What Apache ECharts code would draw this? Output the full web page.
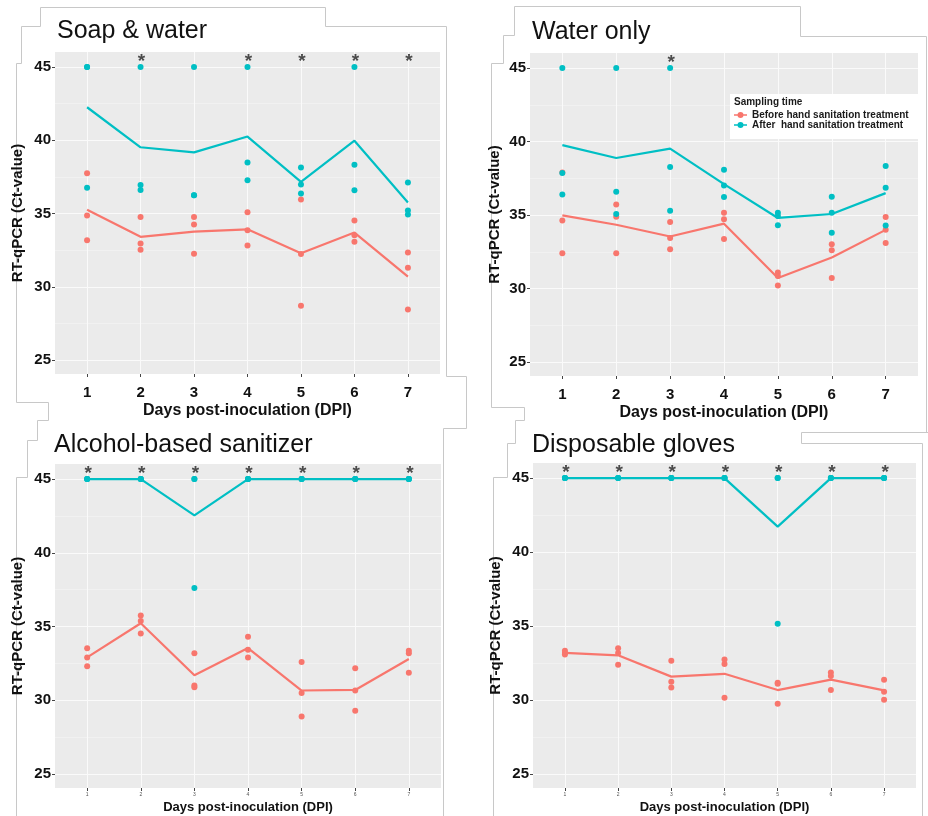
<!DOCTYPE html>
<html>
<head>
<meta charset="utf-8">
<script src="https://cdn.jsdelivr.net/npm/echarts@6/dist/echarts.min.js"></script>
<style>
html,body{margin:0;padding:0;background:#fff;}
#chart{width:928px;height:816px;}
</style>
</head>
<body>
<div id="chart"></div>
<script>
// ---------- data ----------
const days = [1, 2, 3, 4, 5, 6, 7];
const yTickValues = [25, 30, 35, 40, 45];
const yMinorValues = [27.5, 32.5, 37.5, 42.5];
const starLevel = 45.68;

const titles = ['Soap & water', 'Water only', 'Alcohol-based sanitizer', 'Disposable gloves'];
const nameBefore = 'Before hand sanitation treatment';
const nameAfter = 'After  hand sanitation treatment';

// Soap & water
const soapBefore = [[37.75, 34.86, 33.18], [34.77, 32.95, 32.52], [34.77, 34.25, 32.25], [35.09, 33.86, 32.82], [35.95, 32.23, 28.7], [34.52, 33.52, 33.07], [32.34, 31.3, 28.45]];
const soapAfter = [[45, 45, 36.75], [45, 36.95, 36.61], [45, 36.25, 36.25], [45, 38.48, 37.27], [38.14, 36.98, 36.36], [45, 38.32, 36.59], [37.11, 35.2, 34.93]];
const soapBeforeMean = [35.26, 33.41, 33.76, 33.92, 32.29, 33.7, 30.7];
const soapAfterMean = [42.25, 39.52, 39.17, 40.25, 37.16, 39.97, 35.75];
const soapStars = [2, 4, 5, 6, 7];

// Water only
const waterBefore = [[37.9, 34.62, 32.4], [35.72, 34.89, 32.4], [34.52, 33.44, 32.67], [35.16, 34.71, 33.37], [31.09, 30.86, 30.2], [33.01, 32.6, 30.72], [34.86, 34.0, 33.1]];
const waterAfter = [[45, 37.85, 36.4], [45, 36.58, 35.07], [45, 38.26, 35.29], [38.08, 37.01, 36.22], [35.16, 34.93, 34.3], [36.24, 35.16, 33.8], [38.33, 36.86, 34.28]];
const waterBeforeMean = [34.97, 34.34, 33.54, 34.41, 30.72, 32.11, 33.99];
const waterAfterMean = [39.75, 38.88, 39.52, 37.1, 34.8, 35.07, 36.49];
const waterStars = [3];

// Alcohol-based sanitizer
const alcBefore = [[33.53, 32.9, 32.31], [35.75, 35.38, 34.52], [33.19, 31.0, 30.88], [34.3, 33.42, 32.9], [32.6, 30.5, 28.89], [32.17, 30.66, 29.28], [33.35, 33.19, 31.86]];
const alcAfter = [[45, 45, 45], [45, 45, 45], [45, 45, 37.62], [45, 45, 45], [45, 45, 45], [45, 45, 45], [45, 45, 45]];
const alcBeforeMean = [32.91, 35.22, 31.69, 33.54, 30.66, 30.7, 32.8];
const alcAfterMean = [45, 45, 42.54, 45, 45, 45, 45];
const alcStars = [1, 2, 3, 4, 5, 6, 7];

// Disposable gloves
const glvBefore = [[33.32, 33.18, 33.07], [33.5, 33.18, 32.39], [32.66, 31.24, 30.84], [32.73, 32.44, 30.15], [31.17, 31.1, 29.75], [31.85, 31.62, 30.67], [31.37, 30.56, 30.02]];
const glvAfter = [[45, 45, 45], [45, 45, 45], [45, 45, 45], [45, 45, 45], [45, 45, 35.15], [45, 45, 45], [45, 45, 45]];
const glvBeforeMean = [33.19, 33.02, 31.58, 31.77, 30.67, 31.38, 30.65];
const glvAfterMean = [45, 45, 45, 45, 41.72, 45, 45];
const glvStars = [1, 2, 3, 4, 5, 6, 7];

// ---------- layout ----------
const RED = '#F8766D', TEAL = '#00BFC4';
const FONT = 'Liberation Sans, Arial, sans-serif';

const panels = [
  {before: soapBefore, after: soapAfter, bMean: soapBeforeMean, aMean: soapAfterMean, stars: soapStars},
  {before: waterBefore, after: waterAfter, bMean: waterBeforeMean, aMean: waterAfterMean, stars: waterStars},
  {before: alcBefore, after: alcAfter, bMean: alcBeforeMean, aMean: alcAfterMean, stars: alcStars},
  {before: glvBefore, after: glvAfter, bMean: glvBeforeMean, aMean: glvAfterMean, stars: glvStars}
];

const grids = [
  {left: 55, top: 52, width: 385, height: 322},
  {left: 530, top: 53, width: 388, height: 323},
  {left: 55, top: 464, width: 386, height: 324},
  {left: 533, top: 463, width: 383, height: 325}
];
const titlePos = [[57, 19], [532, 20], [54, 433], [532, 433]];
const bigX = [true, true, false, false];
const xNameGap = [29, 29, 13, 13];
const yNameGap = [30, 28, 30, 30];

function points(arr) {
  const out = [];
  arr.forEach((vals, i) => vals.forEach(v => out.push([days[i], v])));
  return out;
}
function meanLine(arr) { return arr.map((v, i) => [days[i], v]); }

const xAxes = [], yAxes = [], series = [], titleOpts = [];

grids.forEach((g, i) => {
  titleOpts.push({
    text: titles[i], left: titlePos[i][0], top: titlePos[i][1], padding: 0,
    textStyle: {fontSize: 25, fontWeight: 'normal', color: '#111', fontFamily: FONT}
  });
  xAxes.push({
    type: 'value', gridIndex: i, min: 0.4, max: 7.6,
    name: 'Days post-inoculation (DPI)', nameLocation: 'middle', nameGap: xNameGap[i],
    nameTextStyle: {fontSize: bigX[i] ? 16 : 13, fontWeight: 'bold', color: '#111', fontFamily: FONT},
    axisLine: {show: false},
    axisTick: {show: true, length: 3, lineStyle: {color: '#444'}, customValues: days},
    axisLabel: bigX[i]
      ? {customValues: days, fontSize: 15, fontWeight: 'bold', color: '#111', margin: 11, fontFamily: FONT}
      : {customValues: days, fontSize: 5, color: '#555', margin: 4, fontFamily: FONT},
    splitLine: {show: false}
  });
  yAxes.push({
    type: 'value', gridIndex: i, min: 24.05, max: 46.02,
    name: 'RT-qPCR (Ct-value)', nameLocation: 'middle', nameGap: yNameGap[i],
    nameTextStyle: {fontSize: 15, fontWeight: 'bold', color: '#111', fontFamily: FONT},
    axisLine: {show: false},
    axisTick: {show: true, length: 3, lineStyle: {color: '#444'}, customValues: yTickValues},
    axisLabel: {customValues: yTickValues, fontSize: 15, fontWeight: 'bold', color: '#111', margin: 4, fontFamily: FONT},
    splitLine: {show: false}
  });
  const p = panels[i];
  // grid lines
  const ml = [];
  yTickValues.forEach(v => ml.push({yAxis: v}));
  yMinorValues.forEach(v => ml.push({yAxis: v, lineStyle: {width: 0.5, color: '#f6f6f6'}}));
  days.forEach(v => ml.push({xAxis: v}));
  series.push({
    type: 'line', name: 'grid' + i, xAxisIndex: i, yAxisIndex: i, data: [], z: 1, silent: true,
    markLine: {silent: true, z: 1, symbol: ['none', 'none'], label: {show: false}, animation: false,
      lineStyle: {color: '#fafafa', width: 1, type: 'solid'}, data: ml}
  });
  series.push({
    type: 'scatter', name: nameBefore, xAxisIndex: i, yAxisIndex: i, data: points(p.before),
    symbolSize: 6, itemStyle: {color: RED, opacity: 1}, z: 4
  });
  series.push({
    type: 'scatter', name: nameAfter, xAxisIndex: i, yAxisIndex: i, data: points(p.after),
    symbolSize: 6, itemStyle: {color: TEAL, opacity: 1}, z: 4
  });
  series.push({
    type: 'line', name: nameBefore, xAxisIndex: i, yAxisIndex: i, data: meanLine(p.bMean),
    showSymbol: false, symbol: 'none', lineStyle: {color: RED, width: 2.2}, itemStyle: {color: RED}, z: 3
  });
  series.push({
    type: 'line', name: nameAfter, xAxisIndex: i, yAxisIndex: i, data: meanLine(p.aMean),
    showSymbol: false, symbol: 'none', lineStyle: {color: TEAL, width: 2.2}, itemStyle: {color: TEAL}, z: 3
  });
  series.push({
    type: 'scatter', name: 'sig' + i, xAxisIndex: i, yAxisIndex: i,
    data: p.stars.map(d => [d, starLevel]), symbolSize: 1, itemStyle: {color: 'rgba(0,0,0,0)'}, z: 5,
    label: {show: true, formatter: '*', position: 'inside', fontSize: 19, fontWeight: 'bold', color: '#222', offset: [1, 5], fontFamily: FONT}
  });
});

const frameStyle = {stroke: '#c8c8c8', lineWidth: 1, fill: null};
const frames = [
  [[40.5, 7.5], [40.5, 26.5], [21.5, 26.5], [21.5, 63.5], [16.5, 63.5], [16.5, 402.5], [48.5, 402.5], [48.5, 420.5], [37.5, 420.5], [37.5, 440.5], [27.5, 440.5], [27.5, 477.5], [16.5, 477.5], [16.5, 816]],
  [[40.5, 7.5], [325.5, 7.5], [325.5, 26.5], [446.5, 26.5], [446.5, 376.5], [466.5, 376.5], [466.5, 428.5], [443.5, 428.5], [443.5, 816]],
  [[514.5, 6.5], [514.5, 35.5], [503.5, 35.5], [503.5, 63.5], [491.5, 63.5], [491.5, 407.5], [524.5, 407.5], [524.5, 420.5], [515.5, 420.5], [515.5, 443.5], [507.5, 443.5], [507.5, 477.5], [493.5, 477.5], [493.5, 816]],
  [[514.5, 6.5], [800.5, 6.5], [800.5, 36.5], [926.5, 36.5], [926.5, 432.5]],
  [[928, 432.5], [801.5, 432.5], [801.5, 443.5], [922.5, 443.5], [922.5, 816]]
];
const graphics = frames.map(pts => ({type: 'polyline', shape: {points: pts}, style: frameStyle, silent: true, z: 0}));
graphics.push({type: 'rect', shape: {x: 730, y: 94, width: 188, height: 45}, style: {fill: '#fff'}, z: 5, silent: true});
graphics.push({type: 'text', x: 734, y: 102, z: 20, silent: true,
  style: {text: 'Sampling time', font: 'bold 10px Liberation Sans, Arial, sans-serif', fill: '#1a1a1a', verticalAlign: 'middle'}});

const option = {
  backgroundColor: '#fff',
  animation: false,
  textStyle: {fontFamily: FONT},
  title: titleOpts,
  grid: grids.map(g => Object.assign({show: true, backgroundColor: '#EBEBEB', borderWidth: 0}, g)),
  xAxis: xAxes,
  yAxis: yAxes,
  legend: {
    data: [nameBefore, nameAfter], left: 734, top: 110, orient: 'vertical', itemGap: 0,
    itemWidth: 13, itemHeight: 7, selectedMode: false, z: 20, padding: 0,
    icon: 'path://M0,2.8L13,2.8L13,4.2L0,4.2Z M9.5,3.5A3,3,0,1,1,3.5,3.5A3,3,0,1,1,9.5,3.5Z',
    textStyle: {fontSize: 10, fontWeight: 'bold', color: '#1a1a1a', fontFamily: FONT}
  },
  graphic: graphics,
  series: series
};

const chart = echarts.init(document.getElementById('chart'), null, {renderer: 'canvas'});
chart.setOption(option);
</script>
</body>
</html>
